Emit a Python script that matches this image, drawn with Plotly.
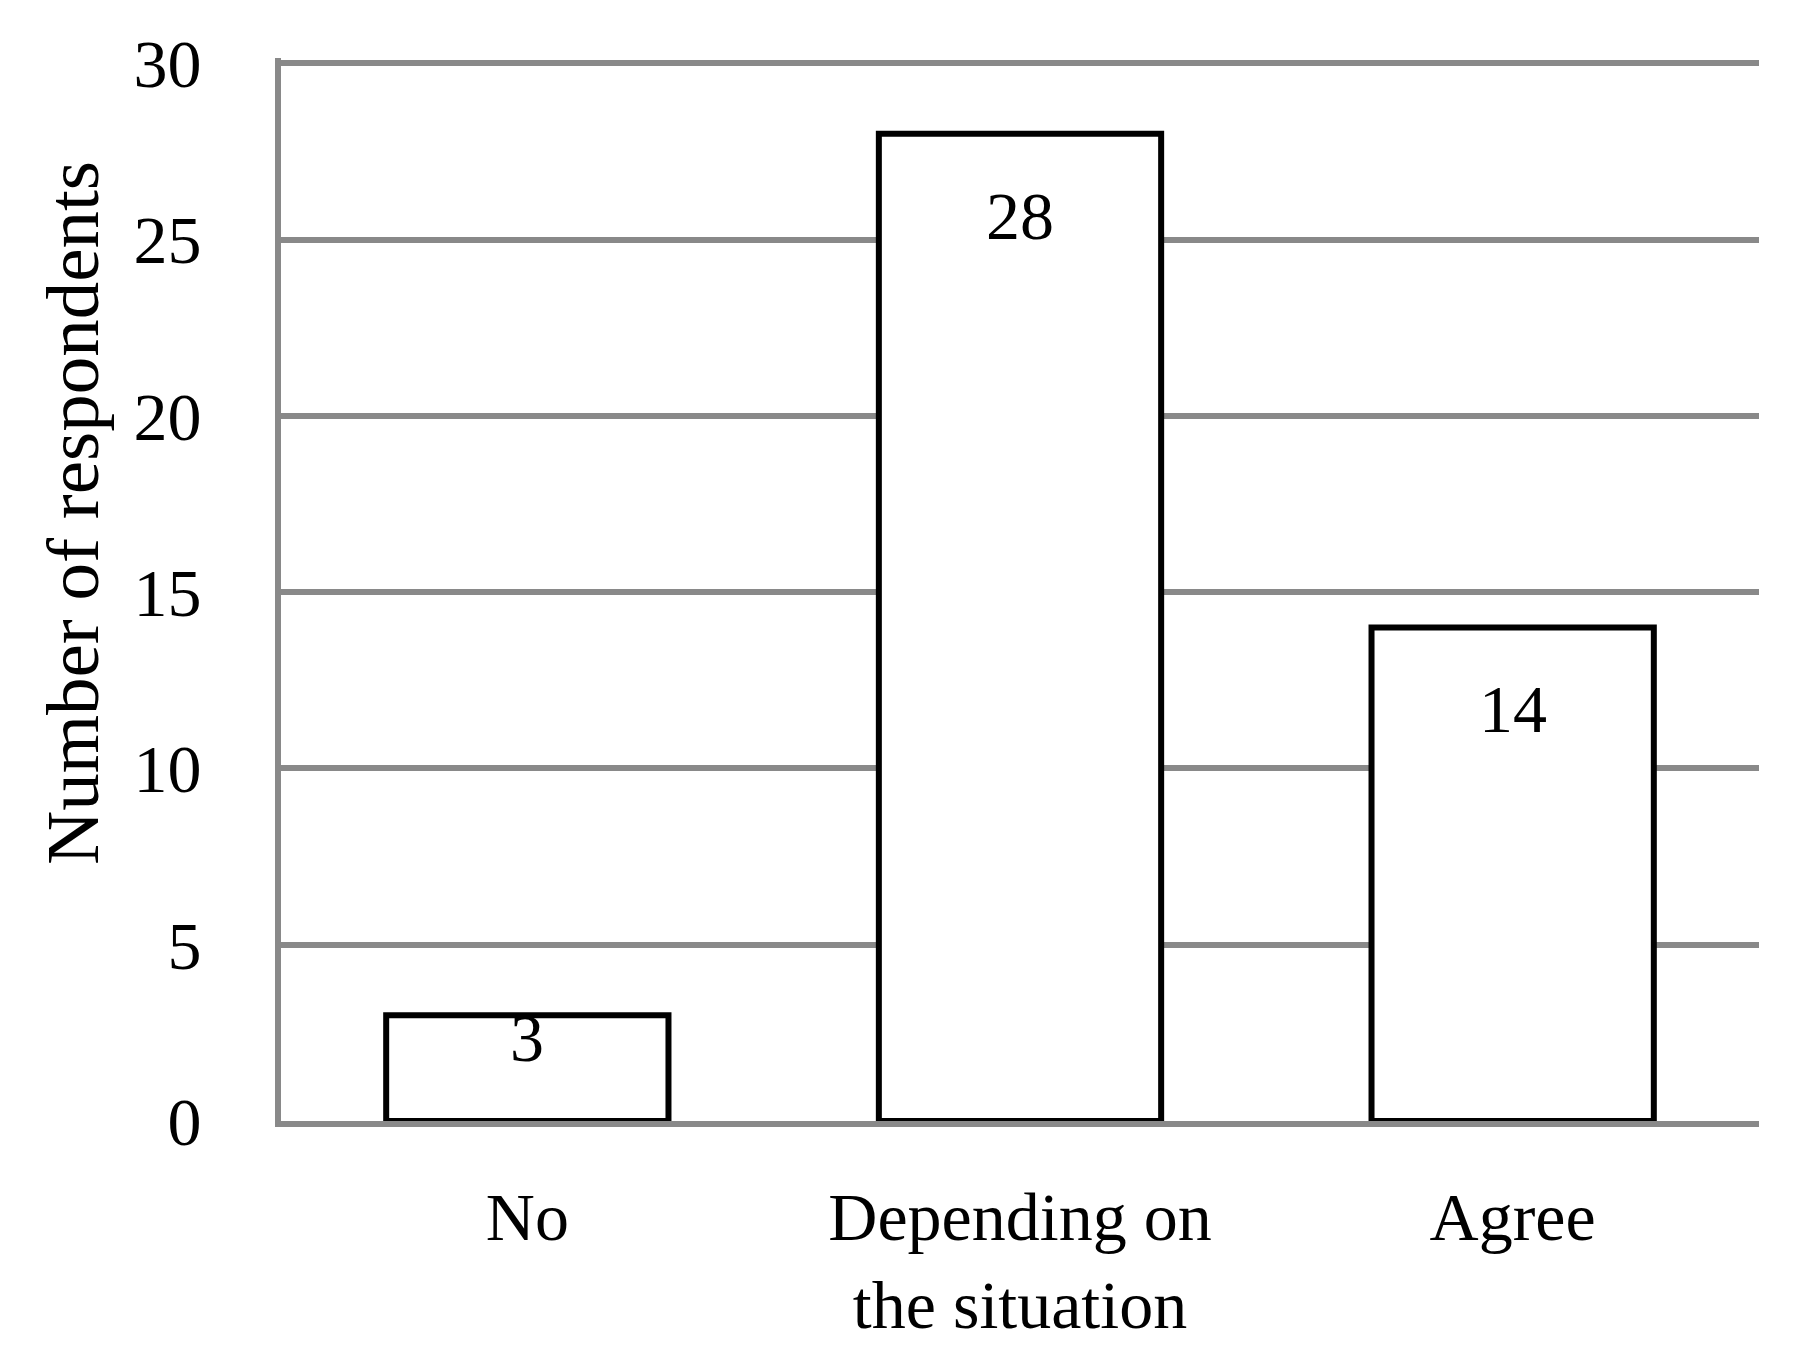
import plotly.graph_objects as go

# survey answers
categories = ["No", "Depending on<br>the situation", "Agree"]
respondents = [3, 28, 14]
y_ticks = [0, 5, 10, 15, 20, 25, 30]

FONT = "Liberation Serif"
GRID = "#898989"

fig = go.Figure()
fig.add_trace(go.Bar(
    x=categories, y=respondents,
    marker=dict(color="white", line=dict(color="black", width=6)),
    showlegend=False,
))

# value labels sit just under the bar top (pushed less on very short bars)
for cat, v in zip(categories, respondents):
    fig.add_annotation(
        x=cat, y=v, text=str(v), showarrow=False,
        yanchor="top", yshift=-42 if v > 5 else 17,
        font=dict(family=FONT, size=68, color="black"),
    )

# y axis title, placed a bit above centre like the original
fig.add_annotation(
    xref="paper", yref="paper", x=-0.1407, y=0.572,
    xanchor="center", yanchor="middle",
    text="Number of respondents", textangle=-90, showarrow=False,
    font=dict(family=FONT, size=75, color="black"),
)

fig.update_layout(
    width=1805, height=1358,
    margin=dict(l=273, r=54, t=50, b=245),
    paper_bgcolor="white", plot_bgcolor="white",
    bargap=0.427,
    font=dict(family=FONT, size=68, color="black"),
)
fig.update_xaxes(
    showgrid=False, zeroline=False, automargin=False,
    showline=True, linecolor=GRID, linewidth=6, layer="above traces",
    ticklabelstandoff=31,
)
fig.update_yaxes(
    range=[0, 30.15], tickvals=y_ticks, automargin=False,
    showgrid=True, gridcolor=GRID, gridwidth=6,
    zeroline=False,
    showline=True, linecolor=GRID, linewidth=6,
    ticklabelstandoff=60,
)

fig.write_html("out.html")
